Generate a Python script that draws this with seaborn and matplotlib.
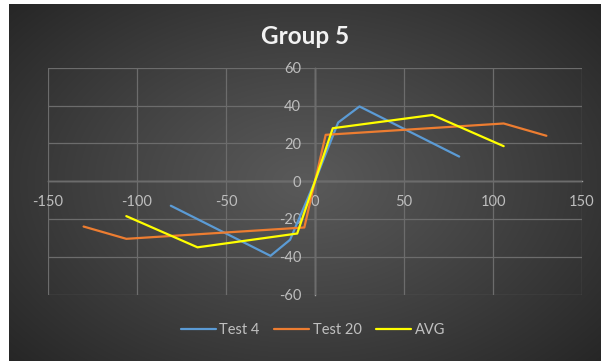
import numpy as np
import pandas as pd
import matplotlib
matplotlib.use("Agg")
import matplotlib.pyplot as plt
import seaborn as sns

# Series data
test4_x = [-81, -25, -14, 0, 13, 25, 81]
test4_y = [-13, -39.5, -31, 0, 31, 39.5, 13]
test20_x = [-130, -106, -6, 0, 6, 106, 130]
test20_y = [-24, -30.5, -24.5, 0, 24.5, 30.5, 24]
avg_x = [-106, -66, -10, 0, 10, 66, 106]
avg_y = [-18.5, -35, -27.7, 0, 28, 35, 18.5]

series_names = ["Test 4", "Test 20", "AVG"]
series_colors = ["#5b9bd5", "#ed7d31", "#ffff00"]
x_ticks = [-150, -100, -50, 0, 50, 100, 150]
y_ticks = [-60, -40, -20, 0, 20, 40, 60]

df = pd.concat([
    pd.DataFrame({"x": test4_x, "y": test4_y, "series": "Test 4"}),
    pd.DataFrame({"x": test20_x, "y": test20_y, "series": "Test 20"}),
    pd.DataFrame({"x": avg_x, "y": avg_y, "series": "AVG"}),
], ignore_index=True)

sns.set_theme(style="dark")
plt.rcParams["font.family"] = ["Lato", "DejaVu Sans"]
plt.rcParams["axes.unicode_minus"] = False

W, H = 601, 361
fig = plt.figure(figsize=(W / 100, H / 100), dpi=100)
fig.patch.set_facecolor("white")

# Dark radial-gradient chart background
bg = fig.add_axes([9 / W, 0, (W - 9) / W, (H - 4) / H])
bg.set_axis_off()
gx = np.linspace(-1, 1, 400)
gy = np.linspace(-1, 1, 240)
GX, GY = np.meshgrid(gx, gy)
r = np.clip(np.sqrt(GX ** 2 + (GY * 0.9) ** 2) / 1.35, 0, 1)
c0, c1 = 0.35, 0.15
img = c0 + (c1 - c0) * r ** 1.1
bg.imshow(np.dstack([img, img, img]), aspect="auto", extent=[0, 1, 0, 1],
          interpolation="bilinear")
bg.set_xlim(0, 1)
bg.set_ylim(0, 1)

# Plot area
ax = fig.add_axes([48 / W, 66.4 / H, 534 / W, 226.9 / H])
ax.set_facecolor("none")
sns.lineplot(data=df, x="x", y="y", hue="series", hue_order=series_names,
             palette=series_colors, sort=False, estimator=None,
             linewidth=1.6, ax=ax, legend=True)

ax.set_xlim(-150, 150)
ax.set_ylim(-60, 60)
ax.set_xticks(x_ticks)
ax.set_yticks(y_ticks)
ax.set_xticklabels([str(t) for t in x_ticks])
ax.set_yticklabels([str(t) for t in y_ticks])
ax.set_xlabel("")
ax.set_ylabel("")

ax.grid(True, color="#6c6c6c", linewidth=0.9)
ax.set_axisbelow(True)
for s in ["top", "right"]:
    ax.spines[s].set_visible(False)
ax.spines["left"].set_position(("data", 0))
ax.spines["bottom"].set_position(("data", 0))
for s in ["left", "bottom"]:
    ax.spines[s].set_color("#a0a0a0")
    ax.spines[s].set_linewidth(1.0)
    ax.spines[s].set_zorder(0.5)
ax.tick_params(axis="both", length=0, pad=10, labelsize=10.5, colors="#bdbdbd")

handles, labels = ax.get_legend_handles_labels()
ax.get_legend().remove()
fig.legend(handles, labels, loc="center", bbox_to_anchor=(313 / W, 31 / H),
           ncol=3, frameon=False, fontsize=10.5, labelcolor="#c0c0c0",
           handlelength=2.4, handletextpad=0.25, columnspacing=1.0)

fig.text(305 / W, (H - 37) / H, "Group 5", ha="center", va="center",
         fontsize=17.5, fontweight="bold", color="#f2f2f2")

fig.savefig("out.png", dpi=100)
